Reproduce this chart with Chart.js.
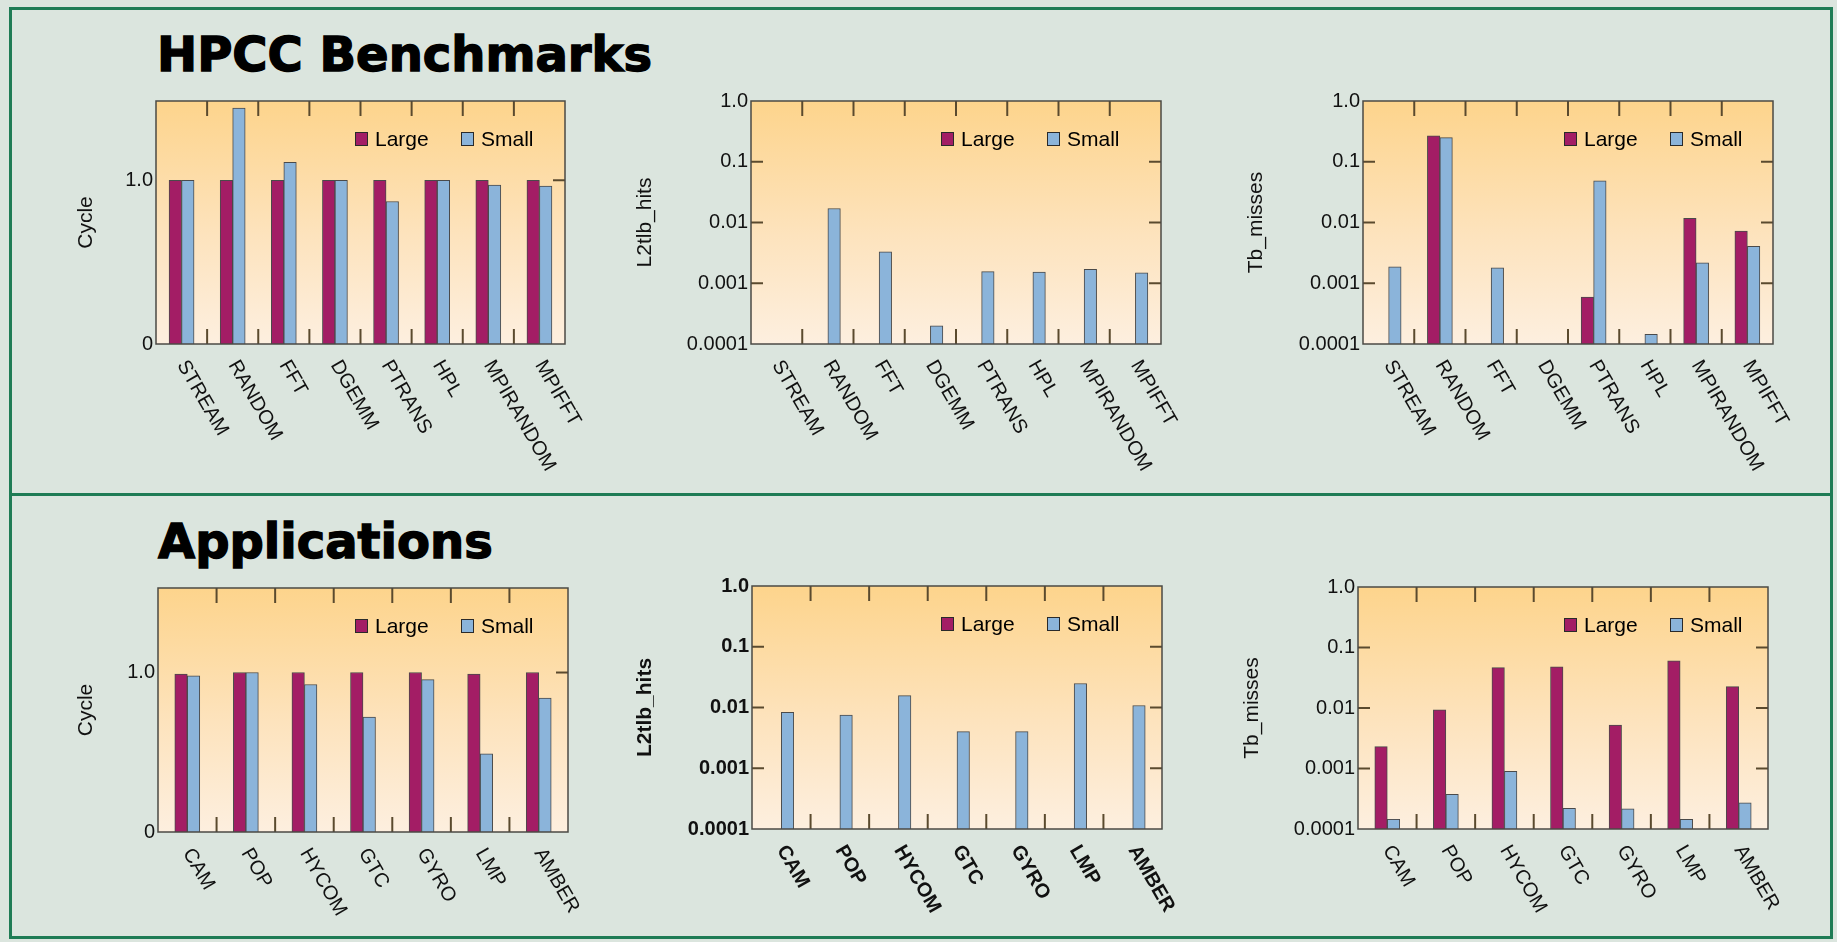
<!DOCTYPE html>
<html>
<head>
<meta charset="utf-8">
<title>HPCC Benchmarks and Applications: TLB behaviour</title>
<script src="https://cdn.jsdelivr.net/npm/chart.js@4.4.1/dist/chart.umd.min.js"></script>
<style>
  html, body { margin: 0; padding: 0; }
  body {
    width: 1837px; height: 942px; position: relative; overflow: hidden;
    background: #dbe5de;
    font-family: "Liberation Sans", Arial, sans-serif;
  }
  .frame {
    position: absolute; left: 9px; top: 7px; width: 1824px; height: 932px;
    border: 3px solid #1f7c55; box-sizing: border-box;
  }
  .divider {
    position: absolute; left: 9px; top: 493px; width: 1824px; height: 3px;
    background: #1f7c55;
  }
  h1 {
    position: absolute; margin: 0;
    font-family: "DejaVu Sans", sans-serif; font-weight: bold;
    font-size: 48px; line-height: 1; color: #000;
    -webkit-text-stroke: 1.4px #000; white-space: nowrap;
  }
  canvas { position: absolute; }
</style>
</head>
<body>
<div class="frame"></div>
<div class="divider"></div>
<h1 style="left:157px; top:30px;">HPCC Benchmarks</h1>
<h1 style="left:158px; top:517px;">Applications</h1>

<canvas id="c1"></canvas>
<canvas id="c2"></canvas>
<canvas id="c3"></canvas>
<canvas id="c4"></canvas>
<canvas id="c5"></canvas>
<canvas id="c6"></canvas>

<script>
// ---- data ----
const seriesNames = ['Large', 'Small'];

const hpccCategories = ['STREAM', 'RANDOM', 'FFT', 'DGEMM', 'PTRANS', 'HPL', 'MPIRANDOM', 'MPIFFT'];
const appCategories  = ['CAM', 'POP', 'HYCOM', 'GTC', 'GYRO', 'LMP', 'AMBER'];

// HPCC benchmarks
const hpccCycleLarge = [1.0, 1.0, 1.0, 1.0, 1.0, 1.0, 1.0, 1.0];
const hpccCycleSmall = [1.0, 1.44, 1.11, 1.0, 0.87, 1.0, 0.97, 0.965];
const hpccL2tlbLarge = [null, null, null, null, null, null, null, null];
const hpccL2tlbSmall = [null, 0.017, 0.0033, 0.0002, 0.00155, 0.00153, 0.0017, 0.00148];
const hpccTlbLarge   = [null, 0.267, null, null, 0.00059, null, 0.0117, 0.0072];
const hpccTlbSmall   = [0.00187, 0.25, 0.0018, null, 0.0485, 0.000144, 0.00217, 0.00405];

// Applications
const appCycleLarge = [0.99, 1.0, 1.0, 1.0, 1.0, 0.99, 1.0];
const appCycleSmall = [0.98, 1.0, 0.925, 0.72, 0.955, 0.49, 0.84];
const appL2tlbLarge = [null, null, null, null, null, null, null];
const appL2tlbSmall = [0.0083, 0.0075, 0.0157, 0.004, 0.004, 0.0248, 0.0108];
const appTlbLarge   = [0.0023, 0.0093, 0.0465, 0.048, 0.0052, 0.06, 0.0226];
const appTlbSmall   = [0.000145, 0.000375, 0.0009, 0.00022, 0.000215, 0.000145, 0.00027];

// axis ticks
const cycleTicks      = [0, 1];
const cycleTickLabels = ['0', '1.0'];
const logTicks        = [0.0001, 0.001, 0.01, 0.1, 1];
const logTickLabels   = ['0.0001', '0.001', '0.01', '0.1', '1.0'];

// ---- styling ----
const FONT = '"Liberation Sans", Arial, sans-serif';
const LARGE_COLOR = '#a31d65';
const SMALL_COLOR = '#8bb4da';
const BAR_EDGE = '#4a4a4a';
const TEXT = '#111111';
const X_AXIS_SPACE = 150;
const RIGHT_SPACE = 70;

// plot rectangles [left, top, right, bottom], axis-title centre, legend offset
const panels = [
  { id: 'c1', plot: [156, 101, 565, 344], titleX: 87,   legendX: 210, bold: false,
    log: false, max: 1.484, yTitle: 'Cycle',      cats: hpccCategories, large: hpccCycleLarge, small: hpccCycleSmall },
  { id: 'c2', plot: [751, 101, 1161, 344], titleX: 646, legendX: 220, bold: false,
    log: true,  yTitle: 'L2tlb_hits', cats: hpccCategories, large: hpccL2tlbLarge, small: hpccL2tlbSmall },
  { id: 'c3', plot: [1363, 101, 1773, 344], titleX: 1257, legendX: 209, bold: false,
    log: true,  yTitle: 'Tb_misses',  cats: hpccCategories, large: hpccTlbLarge,  small: hpccTlbSmall },
  { id: 'c4', plot: [158, 588, 568, 832], titleX: 87,   legendX: 213, bold: false,
    log: false, max: 1.53, yTitle: 'Cycle',       cats: appCategories, large: appCycleLarge, small: appCycleSmall },
  { id: 'c5', plot: [752, 586, 1162, 829], titleX: 646, legendX: 221, bold: true,
    log: true,  yTitle: 'L2tlb_hits', cats: appCategories, large: appL2tlbLarge, small: appL2tlbSmall },
  { id: 'c6', plot: [1358, 587, 1768, 829], titleX: 1253, legendX: 204, bold: false,
    log: true,  yTitle: 'Tb_misses',  cats: appCategories, large: appTlbLarge,  small: appTlbSmall }
];

// plot background, frame, inner tick marks, slanted category labels and legend
const panelDecor = {
  id: 'panelDecor',
  beforeDraw(chart) {
    const { ctx, chartArea: a } = chart;
    const g = ctx.createLinearGradient(0, a.top, 0, a.bottom);
    g.addColorStop(0, '#fdd48c');
    g.addColorStop(0.55, '#fde3bd');
    g.addColorStop(1, '#fdefdf');
    ctx.save();
    ctx.fillStyle = g;
    ctx.fillRect(a.left, a.top, a.right - a.left, a.bottom - a.top);
    ctx.restore();
  },
  afterDraw(chart, args, o) {
    const { ctx, chartArea: a, scales: { x, y } } = chart;
    const line = (x1, y1, x2, y2) => { ctx.beginPath(); ctx.moveTo(x1, y1); ctx.lineTo(x2, y2); ctx.stroke(); };
    ctx.save();

    // tick marks between categories, top and bottom
    ctx.strokeStyle = '#5a4a2e';
    ctx.lineWidth = 2;
    const n = chart.data.labels.length;
    for (let i = 0; i < n - 1; i++) {
      const xp = (x.getPixelForValue(i) + x.getPixelForValue(i + 1)) / 2;
      line(xp, a.top, xp, a.top + 15);
      line(xp, a.bottom, xp, a.bottom - 15);
    }
    // value tick marks on the sides
    o.sideTicks.forEach(v => {
      if (v <= y.min || v >= y.max) return;
      const yp = y.getPixelForValue(v);
      if (o.leftTicks) line(a.left, yp, a.left + 12, yp);
      line(a.right - 12, yp, a.right, yp);
    });

    // plot frame
    ctx.strokeStyle = '#4b4944';
    ctx.lineWidth = 1.5;
    ctx.strokeRect(a.left, a.top, a.right - a.left, a.bottom - a.top);

    // category labels, slanted downwards
    ctx.fillStyle = TEXT;
    ctx.font = (o.bold ? 'bold ' : '') + '20px ' + FONT;
    ctx.textAlign = 'left';
    ctx.textBaseline = 'middle';
    chart.data.labels.forEach((lab, i) => {
      ctx.save();
      ctx.translate(x.getPixelForValue(i), a.bottom + 18);
      ctx.rotate(Math.PI / 3);
      ctx.fillText(lab, 0, 0);
      ctx.restore();
    });

    // legend
    const lx = a.right - o.legendX;
    const ly = a.top + 38;
    ctx.font = '21px ' + FONT;
    chart.data.datasets.forEach((ds, i) => {
      const mx = lx + i * 106;
      ctx.fillStyle = ds.backgroundColor;
      ctx.fillRect(mx, ly - 7, 13, 14);
      ctx.strokeStyle = '#2a2a2a';
      ctx.lineWidth = 1;
      ctx.strokeRect(mx + 0.5, ly - 6.5, 12, 13);
      ctx.fillStyle = '#000';
      ctx.fillText(ds.label, mx + 20, ly + 1);
    });
    ctx.restore();
  }
};

panels.forEach(p => {
  const [L, T, R, B] = p.plot;
  const titleLine = 21 * 1.2;
  const cl = Math.round(p.titleX - titleLine / 2);
  const ct = T - 20;
  const cw = R - cl + RIGHT_SPACE;
  const ch = (B - ct) + X_AXIS_SPACE;
  const yWidth = L - cl;

  const cv = document.getElementById(p.id);
  cv.width = cw; cv.height = ch;
  cv.style.left = cl + 'px';
  cv.style.top = ct + 'px';

  const tickVals = p.log ? logTicks : cycleTicks;
  const tickLabs = p.log ? logTickLabels : cycleTickLabels;
  const weight = p.bold ? 'bold' : 'normal';

  new Chart(cv, {
    type: 'bar',
    data: {
      labels: p.cats,
      datasets: [
        { label: seriesNames[0], data: p.large, backgroundColor: LARGE_COLOR,
          borderColor: BAR_EDGE, borderWidth: 1, barThickness: 12.5 },
        { label: seriesNames[1], data: p.small, backgroundColor: SMALL_COLOR,
          borderColor: BAR_EDGE, borderWidth: 1, barThickness: 12.5 }
      ]
    },
    options: {
      responsive: false,
      animation: false,
      devicePixelRatio: 1,
      layout: { padding: { top: 20, right: RIGHT_SPACE, bottom: 0, left: 0 } },
      plugins: {
        legend: { display: false },
        tooltip: { enabled: false },
        panelDecor: {
          bold: p.bold,
          legendX: p.legendX,
          leftTicks: p.log,
          sideTicks: tickVals
        }
      },
      scales: {
        x: {
          grid: { display: false },
          border: { display: false },
          ticks: { display: false },
          afterFit(s) { s.height = X_AXIS_SPACE; }
        },
        y: {
          type: p.log ? 'logarithmic' : 'linear',
          min: p.log ? logTicks[0] : 0,
          max: p.log ? logTicks[logTicks.length - 1] : p.max,
          grid: { display: false, drawTicks: false },
          border: { display: false },
          afterBuildTicks(s) { s.ticks = tickVals.map(v => ({ value: v })); },
          ticks: {
            padding: 3,
            color: TEXT,
            font: { family: FONT, size: 20, weight: weight },
            callback: (v, i) => tickLabs[i]
          },
          title: {
            display: true,
            text: p.yTitle,
            color: TEXT,
            padding: 0,
            font: { family: FONT, size: 21, weight: weight }
          },
          afterFit(s) { s.width = yWidth; }
        }
      }
    },
    plugins: [panelDecor]
  });
});
</script>
</body>
</html>
